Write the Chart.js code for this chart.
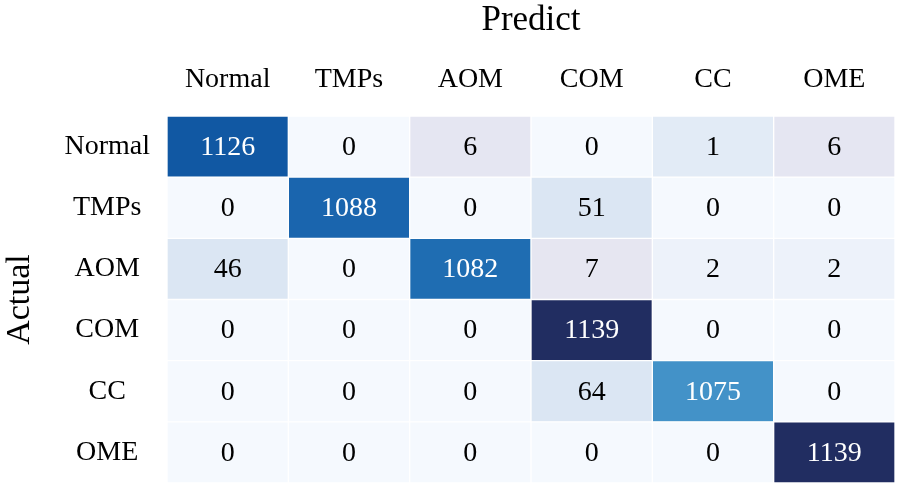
<!DOCTYPE html>
<html>
<head>
<meta charset="utf-8">
<script src="https://cdn.jsdelivr.net/npm/chart.js@4"></script>
<style>
  html, body { margin: 0; padding: 0; background: #fff; }
  #wrap { width: 900px; height: 489px; }
</style>
</head>
<body>
<div id="wrap"><canvas id="cm"></canvas></div>
<script>
// class names (same order for predicted columns and actual rows)
var predictLabels = ['Normal', 'TMPs', 'AOM', 'COM', 'CC', 'OME'];
var actualLabels = ['Normal', 'TMPs', 'AOM', 'COM', 'CC', 'OME'];

// confusion matrix counts, one array per actual row
var rowNormal = [1126, 0, 6, 0, 1, 6];
var rowTMPs = [0, 1088, 0, 51, 0, 0];
var rowAOM = [46, 0, 1082, 7, 2, 2];
var rowCOM = [0, 0, 0, 1139, 0, 0];
var rowCC = [0, 0, 0, 64, 1075, 0];
var rowOME = [0, 0, 0, 0, 0, 1139];
var matrix = [rowNormal, rowTMPs, rowAOM, rowCOM, rowCC, rowOME];

// cell colours as seen in the picture (Blues-like map)
var cellColors = [
  ['#1158a3', '#f5f9fe', '#e5e6f2', '#f5f9fe', '#e2ebf6', '#e5e6f2'],
  ['#f5f9fe', '#1a65ae', '#f5f9fe', '#dbe6f3', '#f5f9fe', '#f5f9fe'],
  ['#dbe6f3', '#f5f9fe', '#1f6db2', '#e6e6f1', '#edf2fa', '#edf2fa'],
  ['#f5f9fe', '#f5f9fe', '#f5f9fe', '#212d61', '#f5f9fe', '#f5f9fe'],
  ['#f5f9fe', '#f5f9fe', '#f5f9fe', '#dbe6f3', '#4392c8', '#f5f9fe'],
  ['#f5f9fe', '#f5f9fe', '#f5f9fe', '#f5f9fe', '#f5f9fe', '#212d61']
];

var serif = "'Liberation Serif', 'Times New Roman', serif";

// each row is one stacked band of height 1; bottom band = last row
var datasets = [];
for (var r = matrix.length - 1; r >= 0; r--) {
  datasets.push({
    label: actualLabels[r],
    counts: matrix[r],
    data: matrix[r].map(function () { return 1; }),
    backgroundColor: cellColors[r],
    borderColor: '#ffffff',
    borderWidth: 1,
    borderSkipped: false,
    barPercentage: 1,
    categoryPercentage: 1
  });
}

var cellText = {
  id: 'cellText',
  afterDatasetsDraw: function (chart) {
    var ctx = chart.ctx;
    ctx.save();
    ctx.font = '28px ' + serif;
    ctx.textAlign = 'center';
    ctx.textBaseline = 'middle';
    chart.data.datasets.forEach(function (ds, i) {
      var meta = chart.getDatasetMeta(i);
      meta.data.forEach(function (bar, j) {
        var v = ds.counts[j];
        ctx.fillStyle = v > 500 ? '#ffffff' : '#000000';
        ctx.fillText(String(v), bar.x, (bar.y + bar.base) / 2 + 1);
      });
    });
    ctx.restore();
  }
};

var cmElement = document.getElementById('cm').getContext('2d');
var cmChart = new Chart(cmElement, {
  type: 'bar',
  data: {
    labels: predictLabels,
    datasets: datasets
  },
  plugins: [cellText],
  options: {
    responsive: true,
    maintainAspectRatio: false,
    animation: false,
    layout: { padding: { left: 0, right: 5, top: 0, bottom: 6 } },
    plugins: {
      legend: { display: false },
      tooltip: { enabled: false }
    },
    scales: {
      x: {
        position: 'top',
        stacked: true,
        grid: { display: false, drawTicks: false },
        border: { display: false },
        ticks: { color: '#000', font: { family: serif, size: 28 }, padding: 20 },
        title: { display: true, text: 'Predict', color: '#000', font: { family: serif, size: 35 }, padding: { top: 0, bottom: 0 } },
        afterFit: function (scale) {
          scale.height = 116;
          scale.paddingLeft = 0;
          scale.paddingRight = 0;
        }
      },
      y: {
        stacked: true,
        min: 0,
        max: 6,
        grid: { display: false, drawTicks: false },
        border: { display: false },
        afterBuildTicks: function (scale) {
          scale.ticks = [0.5, 1.5, 2.5, 3.5, 4.5, 5.5].map(function (v) { return { value: v }; });
        },
        ticks: {
          color: '#000',
          font: { family: serif, size: 28 },
          padding: 17,
          crossAlign: 'center',
          callback: function (value) { return actualLabels[actualLabels.length - 1 - Math.floor(value)]; }
        },
        title: { display: true, text: 'Actual', color: '#000', font: { family: serif, size: 34 }, padding: { top: 0, bottom: 0 } },
        afterFit: function (scale) {
          scale.width = 167;
          scale.paddingTop = 0;
          scale.paddingBottom = 0;
        }
      }
    }
  }
});
</script>
</body>
</html>
